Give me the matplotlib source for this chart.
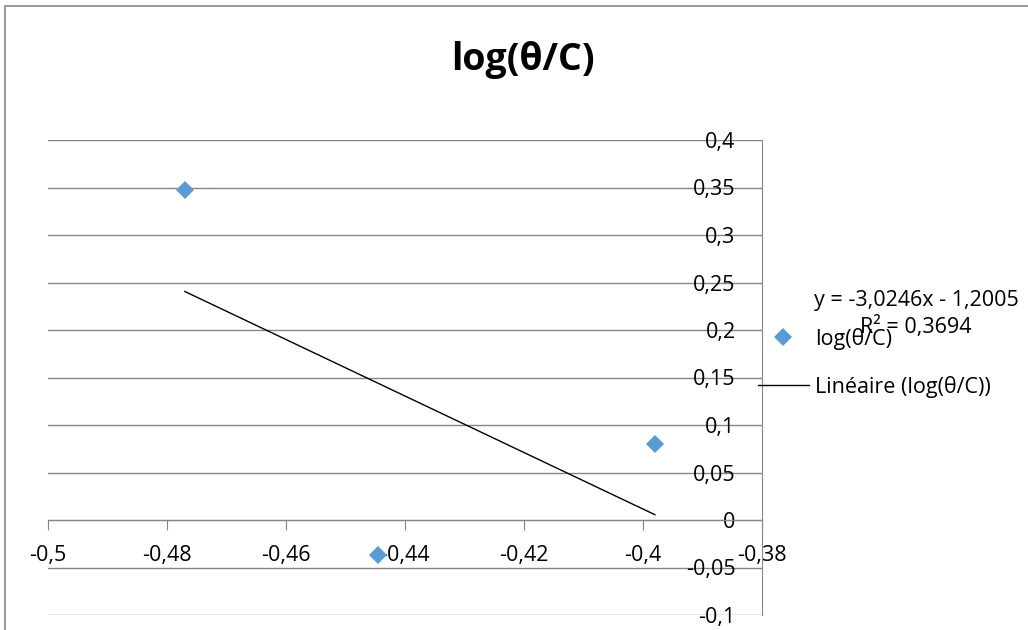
import matplotlib
matplotlib.use('Agg')
import matplotlib.pyplot as plt
from matplotlib.patches import Rectangle
from matplotlib.lines import Line2D
from matplotlib.ticker import FuncFormatter
import numpy as np

# values
xVals = [-0.477, -0.4445, -0.398]
yVals = [0.347, -0.037, 0.080]
seriesName = 'log(θ/C)'
trendName = 'Linéaire (log(θ/C))'
eqText = 'y = -3,0246x - 1,2005\nR² = 0,3694'
xTicks = [-0.5, -0.48, -0.46, -0.44, -0.42, -0.4, -0.38]
yTicks = [-0.1, -0.05, 0, 0.05, 0.1, 0.15, 0.2, 0.25, 0.3, 0.35, 0.4]

plt.rcParams['font.family'] = ['Open Sans', 'DejaVu Sans']
gridCol = '#868686'
blue = '#5B9BD5'
W, H = 1028, 630


def commaFmt(v, pos):
    s = ('%.2f' % v).rstrip('0').rstrip('.')
    if s == '-0':
        s = '0'
    return s.replace('.', ',')


fig = plt.figure(figsize=(W / 100, H / 100), dpi=100)
fig.patches.append(Rectangle((5 / W, -0.1), 1.2, 1 - 6 / H + 0.1, transform=fig.transFigure,
                             fill=False, edgecolor=gridCol, lw=1.2))

ax = fig.add_axes([48 / W, (H - 615) / H, (762 - 48) / W, (615 - 140) / H])
ax.set_xlim(-0.5, -0.38)
ax.set_ylim(-0.1, 0.4)
ax.set_axisbelow(True)

for sp in ['top', 'left']:
    ax.spines[sp].set_visible(False)
ax.spines['bottom'].set_position(('data', 0))
ax.spines['bottom'].set_color(gridCol)
ax.spines['right'].set_color(gridCol)

ax.set_xticks(xTicks)
ax.set_yticks(yTicks)
ax.xaxis.set_major_formatter(FuncFormatter(commaFmt))
ax.yaxis.set_major_formatter(FuncFormatter(commaFmt))
ax.yaxis.grid(True, color=gridCol, lw=1)

ax.tick_params(axis='x', direction='out', length=7, color=gridCol, labelsize=15.5, pad=11)
ax.tick_params(axis='y', left=False, right=True, labelleft=False, labelright=True,
               direction='in', length=0, labelsize=15.5, pad=-19)
for lab in ax.get_yticklabels():
    lab.set_horizontalalignment('right')

ax.plot(xVals, yVals, linestyle='none', marker='D', markersize=9.5, color=blue,
        markeredgewidth=0, zorder=3, clip_on=False)

slope, inter = np.polyfit(xVals, yVals, 1)
xLine = np.array([min(xVals), max(xVals)])
ax.plot(xLine, slope * xLine + inter, color='black', lw=1, zorder=2)

fig.text(523 / W, 1 - 60 / H, 'log(θ/C)', ha='center', va='center', fontsize=27, fontweight='bold')

handles = [Line2D([], [], linestyle='none', marker='D', markersize=9.5, color=blue, markeredgewidth=0),
           Line2D([], [], color='black', lw=1)]
fig.legend(handles, [seriesName, trendName], loc='upper left', bbox_to_anchor=(758 / W, 1 - 328 / H),
           frameon=False, fontsize=15.5, handlelength=2.35, handletextpad=0.3, labelspacing=1.2,
           borderpad=0, borderaxespad=0)

fig.text(916 / W, 1 - 314 / H, eqText, ha='center', va='center', multialignment='center',
         fontsize=15.5, linespacing=1.35)

plt.savefig('out.png', dpi=100)
